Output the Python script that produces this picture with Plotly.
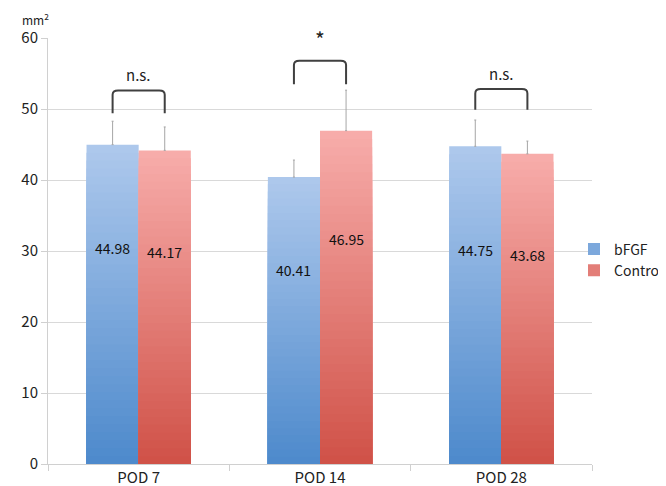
import plotly.graph_objects as go

categories = ["POD 7", "POD 14", "POD 28"]
bfgf = [44.98, 40.41, 44.75]
control = [44.17, 46.95, 43.68]
bfgf_err = [3.3, 2.4, 3.7]
control_err = [3.3, 5.7, 1.8]
sig_labels = ["n.s.", "*", "n.s."]
bracket_bottom = [49.4, 53.5, 49.9]
bracket_top = [52.6, 56.8, 52.8]

series = [
    ("bFGF", bfgf, bfgf_err, (173, 200, 236), (78, 138, 204), -0.2875),
    ("Control", control, control_err, (247, 172, 170), (208, 82, 72), 0.0),
]

FONT = "Noto Sans CJK JP, Liberation Sans, Arial, sans-serif"
N = 40
W = 0.2875
xs = list(range(len(categories)))
WPX, HPX = 666, 486

fig = go.Figure()
for name, vals, errs, ctop, cbot, off in series:
    for i in range(N):
        t = i / (N - 1)
        col = "rgb(%d,%d,%d)" % tuple(round(ctop[k] + (cbot[k] - ctop[k]) * t) for k in range(3))
        frac = (N - i) / N
        fig.add_trace(go.Bar(
            x=xs, y=[v * frac for v in vals], width=W, offset=off,
            marker=dict(color=col, line=dict(width=0)),
            name=name, legendgroup=name, showlegend=(i == N // 2),
            hoverinfo="skip",
        ))
    fig.add_trace(go.Bar(
        x=xs, y=vals, width=W, offset=off,
        marker=dict(color="rgba(0,0,0,0)", line=dict(width=0)),
        showlegend=False, name=name,
        error_y=dict(type="data", array=errs, arrayminus=[0] * len(errs),
                     symmetric=False, color="#a6a6a6", thickness=1, width=1),
    ))
    for x, v in zip(xs, vals):
        fig.add_annotation(x=x + off + W / 2, y=v * 0.675, text="%.2f" % v,
                           showarrow=False, font=dict(family=FONT, size=14, color="#111"))

shapes = []
for x, yb, yt, lab in zip(xs, bracket_bottom, bracket_top, sig_labels):
    x0 = x - W / 2
    x1 = x + W / 2
    rx = 0.03
    ry = 0.6
    path = (f"M {x0},{yb} L {x0},{yt - ry} Q {x0},{yt} {x0 + rx},{yt} "
            f"L {x1 - rx},{yt} Q {x1},{yt} {x1},{yt - ry} L {x1},{yb}")
    shapes.append(dict(type="path", path=path, xref="x", yref="y",
                       line=dict(color="#404040", width=2)))
    if lab == "*":
        fig.add_annotation(x=x, y=yt + 0.6, text=lab, showarrow=False, yanchor="bottom",
                           font=dict(family=FONT, size=21, color="#222"))
    else:
        fig.add_annotation(x=x, y=yt + 0.5, text=lab, showarrow=False, yanchor="bottom",
                           font=dict(family=FONT, size=15, color="#222"))

fig.add_annotation(x=12 / WPX, y=1.0, xref="paper", yref="paper",
                   text="mm<sup>2</sup>", showarrow=False, xanchor="left", yanchor="top",
                   font=dict(family=FONT, size=12, color="#222"))

fig.update_layout(
    template="none",
    width=WPX, height=HPX,
    margin=dict(l=0, r=0, t=0, b=0, pad=0),
    barmode="overlay",
    plot_bgcolor="white", paper_bgcolor="white",
    shapes=shapes,
    font=dict(family=FONT, size=15, color="#222"),
    legend=dict(x=566 / WPX, y=0.5 + (486 / 2 - 252) / HPX, xanchor="left", yanchor="middle",
                font=dict(family=FONT, size=14, color="#222"),
                itemwidth=30, tracegroupgap=0, bgcolor="rgba(0,0,0,0)", borderwidth=0),
    xaxis=dict(domain=[40 / WPX, 584 / WPX], automargin=False,
               range=[-0.5, 2.5], tickmode="array", tickvals=xs, ticktext=categories,
               ticks="", showgrid=False, showline=True, linecolor="#d0d0d0", linewidth=1,
               zeroline=False,
               minor=dict(tickmode="array", tickvals=[-0.5, 0.5, 1.5, 2.5], ticks="outside",
                          ticklen=6, tickcolor="#d0d0d0", showgrid=False),
               tickfont=dict(family=FONT, size=15, color="#222")),
    yaxis=dict(domain=[30 / HPX, 456 / HPX], automargin=False,
               range=[0, 60], tickmode="linear", tick0=0, dtick=10, showgrid=True,
               gridcolor="#d9d9d9", gridwidth=1, showline=True, linecolor="#d0d0d0",
               zeroline=False, ticks="outside", ticklen=6, tickcolor="#d0d0d0",
               tickfont=dict(family=FONT, size=15, color="#222")),
)

fig.write_html("out.html")
